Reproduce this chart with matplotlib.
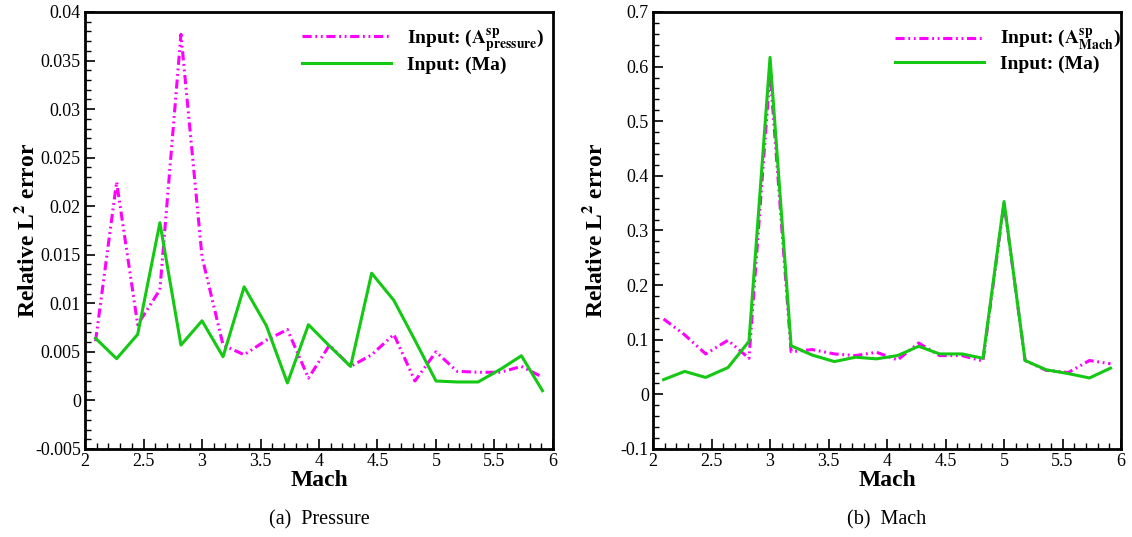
import matplotlib
matplotlib.use("Agg")
import matplotlib.pyplot as plt
from matplotlib.ticker import MultipleLocator, FuncFormatter

plt.rcParams['font.family'] = 'Liberation Serif'
plt.rcParams['mathtext.fontset'] = 'stix'

# Mach numbers (shared by both panels)
mach = [2.09, 2.27, 2.45, 2.64, 2.82, 3.00, 3.18, 3.36, 3.55, 3.73, 3.91,
        4.09, 4.27, 4.45, 4.64, 4.82, 5.00, 5.18, 5.36, 5.55, 5.73, 5.91]

# (a) Pressure
p_asp = [0.0061, 0.0225, 0.0078, 0.0114, 0.0377, 0.0148, 0.0057, 0.0047, 0.0062, 0.0073, 0.0023,
         0.0057, 0.0035, 0.0047, 0.0068, 0.0020, 0.0050, 0.0030, 0.0029, 0.0029, 0.0035, 0.0024]
p_ma = [0.0064, 0.0043, 0.0068, 0.0183, 0.0057, 0.0082, 0.0045, 0.0117, 0.0077, 0.0018, 0.0078,
        0.0056, 0.0035, 0.0131, 0.0103, 0.0062, 0.0020, 0.0019, 0.0019, 0.0032, 0.0046, 0.0010]

# (b) Mach
m_asp = [0.138, 0.109, 0.074, 0.099, 0.066, 0.590, 0.078, 0.082, 0.074, 0.071, 0.077,
         0.063, 0.094, 0.071, 0.071, 0.061, 0.350, 0.062, 0.044, 0.040, 0.062, 0.056]
m_ma = [0.027, 0.042, 0.031, 0.049, 0.097, 0.617, 0.089, 0.072, 0.060, 0.068, 0.065,
        0.071, 0.088, 0.074, 0.074, 0.066, 0.353, 0.062, 0.045, 0.038, 0.030, 0.048]

magenta = '#ff00ff'
green = '#14c814'
dashdotdot = (0, (3.0, 1.2, 0.6, 1.2, 0.6, 1.2))

fig = plt.figure(figsize=(11.32, 5.37), dpi=100)
ax1 = fig.add_axes([0.0751, 0.1639, 0.4134, 0.8138])
ax2 = fig.add_axes([0.5769, 0.1639, 0.4134, 0.8138])

panels = [
    (ax1, p_asp, p_ma, r'Input: ($\mathbf{A}^{\mathbf{sp}}_{\mathbf{pressure}}$)',
     (-0.005, 0.04), 0.005, 0.001, '(a)  Pressure', 0.4637),
    (ax2, m_asp, m_ma, r'Input: ($\mathbf{A}^{\mathbf{sp}}_{\mathbf{Mach}}$)',
     (-0.1, 0.7), 0.1, 0.02, '(b)  Mach', 0.517),
]

for ax, asp, ma, lab, ylim, major, minor, caption, legx in panels:
    ax.plot(mach, asp, color=magenta, lw=2.2, linestyle=dashdotdot, label=lab)
    ax.plot(mach, ma, color=green, lw=2.2, label='Input: (Ma)')
    ax.set_xlim(2, 6)
    ax.set_ylim(*ylim)
    ax.xaxis.set_major_locator(MultipleLocator(0.5))
    ax.xaxis.set_minor_locator(MultipleLocator(0.1))
    ax.yaxis.set_major_locator(MultipleLocator(major))
    ax.yaxis.set_minor_locator(MultipleLocator(minor))
    ax.xaxis.set_major_formatter(FuncFormatter(lambda v, p: '%g' % round(v, 4)))
    ax.yaxis.set_major_formatter(FuncFormatter(lambda v, p: '%g' % round(v, 4)))
    ax.tick_params(which='both', direction='in', top=False, right=False, labelsize=13, pad=3)
    ax.tick_params(which='major', length=7, width=1.2)
    ax.tick_params(which='minor', length=4, width=1.0)
    for s in ax.spines.values():
        s.set_linewidth(2)
    ax.set_xlabel('Mach', fontsize=17, fontweight='bold', labelpad=0)
    ax.set_ylabel(r'Relative L$^{\mathbf{2}}$ error', fontsize=17, fontweight='bold')
    ax.yaxis.set_label_coords(-0.124, 0.5)
    ax.yaxis.label.set_verticalalignment('center')
    ax.legend(loc='upper left', bbox_to_anchor=(legx, 0.966), frameon=False,
              prop={'size': 14, 'weight': 'bold'}, borderpad=0, borderaxespad=0,
              handlelength=4.6, labelspacing=0.12, handletextpad=0.8)
    pos = ax.get_position()
    fig.text(pos.x0 + pos.width / 2, 0.032, caption, ha='center', va='center', fontsize=14.5)

fig.savefig('out.png', dpi=100)
